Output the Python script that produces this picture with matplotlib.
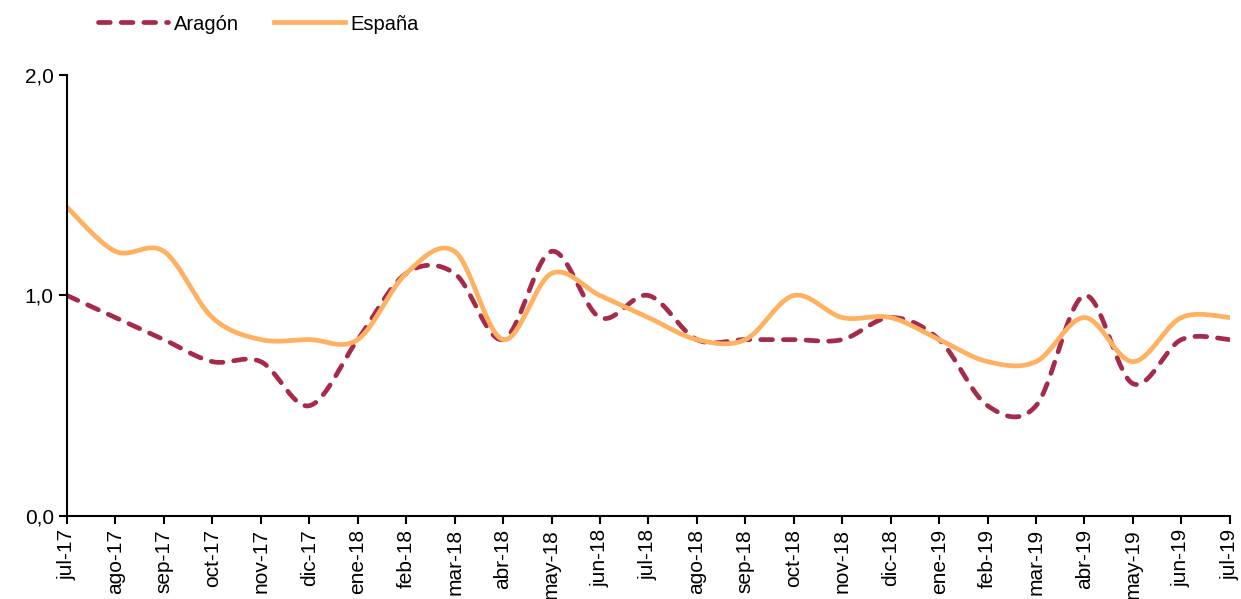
import numpy as np
import matplotlib
matplotlib.use("Agg")
import matplotlib.pyplot as plt

plt.rcParams['font.family'] = ['Liberation Sans', 'DejaVu Sans']

months = ['jul-17', 'ago-17', 'sep-17', 'oct-17', 'nov-17', 'dic-17', 'ene-18',
          'feb-18', 'mar-18', 'abr-18', 'may-18', 'jun-18', 'jul-18', 'ago-18',
          'sep-18', 'oct-18', 'nov-18', 'dic-18', 'ene-19', 'feb-19', 'mar-19',
          'abr-19', 'may-19', 'jun-19', 'jul-19']
aragon = [1.0, 0.9, 0.8, 0.7, 0.7, 0.5, 0.8, 1.1, 1.1, 0.8, 1.2, 0.9, 1.0,
          0.8, 0.8, 0.8, 0.8, 0.9, 0.8, 0.5, 0.5, 1.0, 0.6, 0.8, 0.8]
espana = [1.4, 1.2, 1.2, 0.9, 0.8, 0.8, 0.8, 1.1, 1.2, 0.8, 1.1, 1.0, 0.9,
          0.8, 0.8, 1.0, 0.9, 0.9, 0.8, 0.7, 0.7, 0.9, 0.7, 0.9, 0.9]


def smooth(y, n=30):
    # Catmull-Rom, like Excel's smoothed lines
    y = np.asarray(y, float)
    x = np.arange(len(y), dtype=float)
    p = np.concatenate([[y[0]], y, [y[-1]]])
    px = np.concatenate([[x[0]], x, [x[-1]]])
    xs, ys = [], []
    t = np.linspace(0, 1, n, endpoint=False)
    for i in range(1, len(p) - 2):
        for arr, out in ((px, xs), (p, ys)):
            p0, p1, p2, p3 = arr[i - 1], arr[i], arr[i + 1], arr[i + 2]
            c1 = p1 + (p2 - p0) / 6
            c2 = p2 - (p3 - p1) / 6
            out.extend((1 - t) ** 3 * p1 + 3 * (1 - t) ** 2 * t * c1
                       + 3 * (1 - t) * t ** 2 * c2 + t ** 3 * p2)
    xs.append(x[-1])
    ys.append(y[-1])
    return np.array(xs), np.array(ys)


fig = plt.figure(figsize=(12.41, 5.99), dpi=100)
ax = fig.add_axes([0.054, 0.1386, 0.937, 0.7362])

xa, ya = smooth(aragon)
xe, ye = smooth(espana)
ax.plot(xa, ya, color='#A62B4A', linewidth=3.4, linestyle=(0, (2.5, 2.3)),
        dash_capstyle='round', label='Aragón')
ax.plot(xe, ye, color='#FFB061', linewidth=3.4, label='España')

ax.set_xlim(0, len(months) - 1)
ax.set_ylim(0, 2)
ax.set_yticks([0, 1, 2])
ax.set_yticklabels(['0,0', '1,0', '2,0'])
ax.set_xticks(range(len(months)))
ax.set_xticklabels(months, rotation=90)
ax.tick_params(labelsize=15, direction='out', length=6, width=1.5, colors='black')
ax.spines['top'].set_visible(False)
ax.spines['right'].set_visible(False)
ax.spines['left'].set_linewidth(1.5)
ax.spines['bottom'].set_linewidth(1.5)
ax.spines['bottom'].set_zorder(0)

fig.legend(loc='upper left', bbox_to_anchor=(0.064, 1.006), ncol=2, frameon=False,
           fontsize=14.5, handlelength=3.5, handletextpad=0.3, columnspacing=1.75)

fig.savefig('out.png', dpi=100)
